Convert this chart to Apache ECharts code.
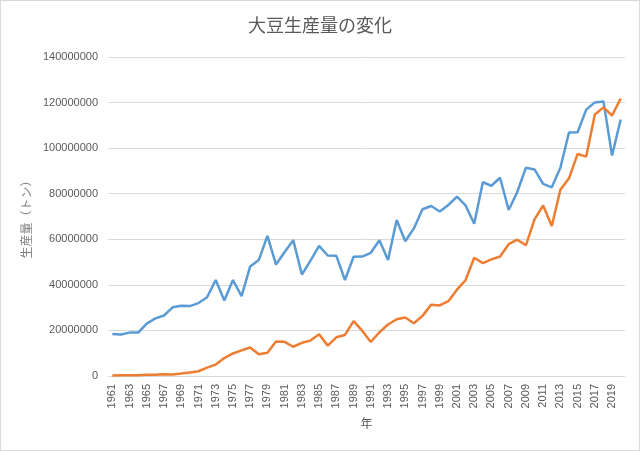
<!DOCTYPE html>
<html><head><meta charset="utf-8">
<script src="https://cdn.jsdelivr.net/npm/echarts@6/dist/echarts.min.js"></script>
<style>
html,body{margin:0;padding:0;background:#fff;}
#c{position:absolute;left:0;top:0;width:638px;height:449px;border:1px solid #d9d9d9;}
</style></head>
<body><div id="c"></div>
<script>
const years = [];
for (let y = 1961; y <= 2020; y++) years.push(String(y));
const usa = [18.47,18.21,19.04,19.08,23.01,25.27,26.56,30.13,30.84,30.68,32.01,34.58,42.12,33.10,42.14,35.07,48.10,50.86,61.52,48.92,54.44,59.61,44.52,50.64,57.11,52.87,52.74,42.15,52.35,52.42,54.07,59.61,50.89,68.44,59.17,64.78,73.18,74.60,72.22,75.06,78.67,74.83,66.78,85.02,83.51,87.00,72.86,80.75,91.42,90.66,84.29,82.79,91.39,106.88,106.95,116.92,120.07,120.52,96.79,112.55].map(v => Math.round(v * 1e6));
const brazil = [0.27,0.35,0.32,0.30,0.52,0.59,0.72,0.65,1.06,1.51,2.08,3.67,5.01,7.88,9.89,11.23,12.51,9.54,10.24,15.16,15.01,12.84,14.58,15.54,18.28,13.33,16.98,18.02,24.07,19.90,14.94,19.21,22.59,24.93,25.68,23.17,26.39,31.31,30.99,32.82,37.88,42.11,51.92,49.55,51.18,52.46,57.86,59.83,57.35,68.76,74.82,65.85,81.72,86.76,97.46,96.30,114.73,117.91,114.32,121.80].map(v => Math.round(v * 1e6));
const titleText = '大豆生産量の変化';
const yName = '生産量（トン）';
const xName = '年';

const chart = echarts.init(document.getElementById('c'));
const txt = '#595959';
chart.setOption({
  animation: false,
  title: {text: titleText, left: 'center', top: 10,
    textStyle: {fontSize: 18, fontWeight: 'normal', color: txt, fontFamily: 'Noto Sans CJK JP'}},
  grid: {left: 107, right: 14, top: 56, bottom: 74},
  xAxis: {
    type: 'category', data: years, boundaryGap: true,
    name: xName, nameLocation: 'middle', nameGap: 41,
    nameTextStyle: {color: txt, fontSize: 12, fontFamily: 'Noto Sans CJK JP'},
    axisLine: {lineStyle: {color: '#d9d9d9', width: 1}},
    axisTick: {show: false},
    axisLabel: {interval: 1, rotate: 90, color: txt, fontSize: 11, margin: 8, fontFamily: 'Liberation Sans'}
  },
  yAxis: {
    type: 'value', min: 0, max: 140000000, interval: 20000000,
    name: yName, nameLocation: 'middle', nameGap: 70,
    nameTextStyle: {color: '#7f7f7f', fontSize: 12, fontFamily: 'Noto Sans CJK JP'},
    axisLine: {show: false}, axisTick: {show: false},
    splitLine: {lineStyle: {color: '#d9d9d9', width: 1}},
    axisLabel: {color: txt, fontSize: 11, margin: 10, fontFamily: 'Liberation Sans',
      formatter: v => String(v)}
  },
  series: [
    {type: 'line', data: usa, showSymbol: false, lineStyle: {color: '#5B9BD5', width: 2.5}, itemStyle: {color: '#5B9BD5'}},
    {type: 'line', data: brazil, showSymbol: false, lineStyle: {color: '#ED7D31', width: 2.5}, itemStyle: {color: '#ED7D31'}}
  ]
});
</script></body></html>
